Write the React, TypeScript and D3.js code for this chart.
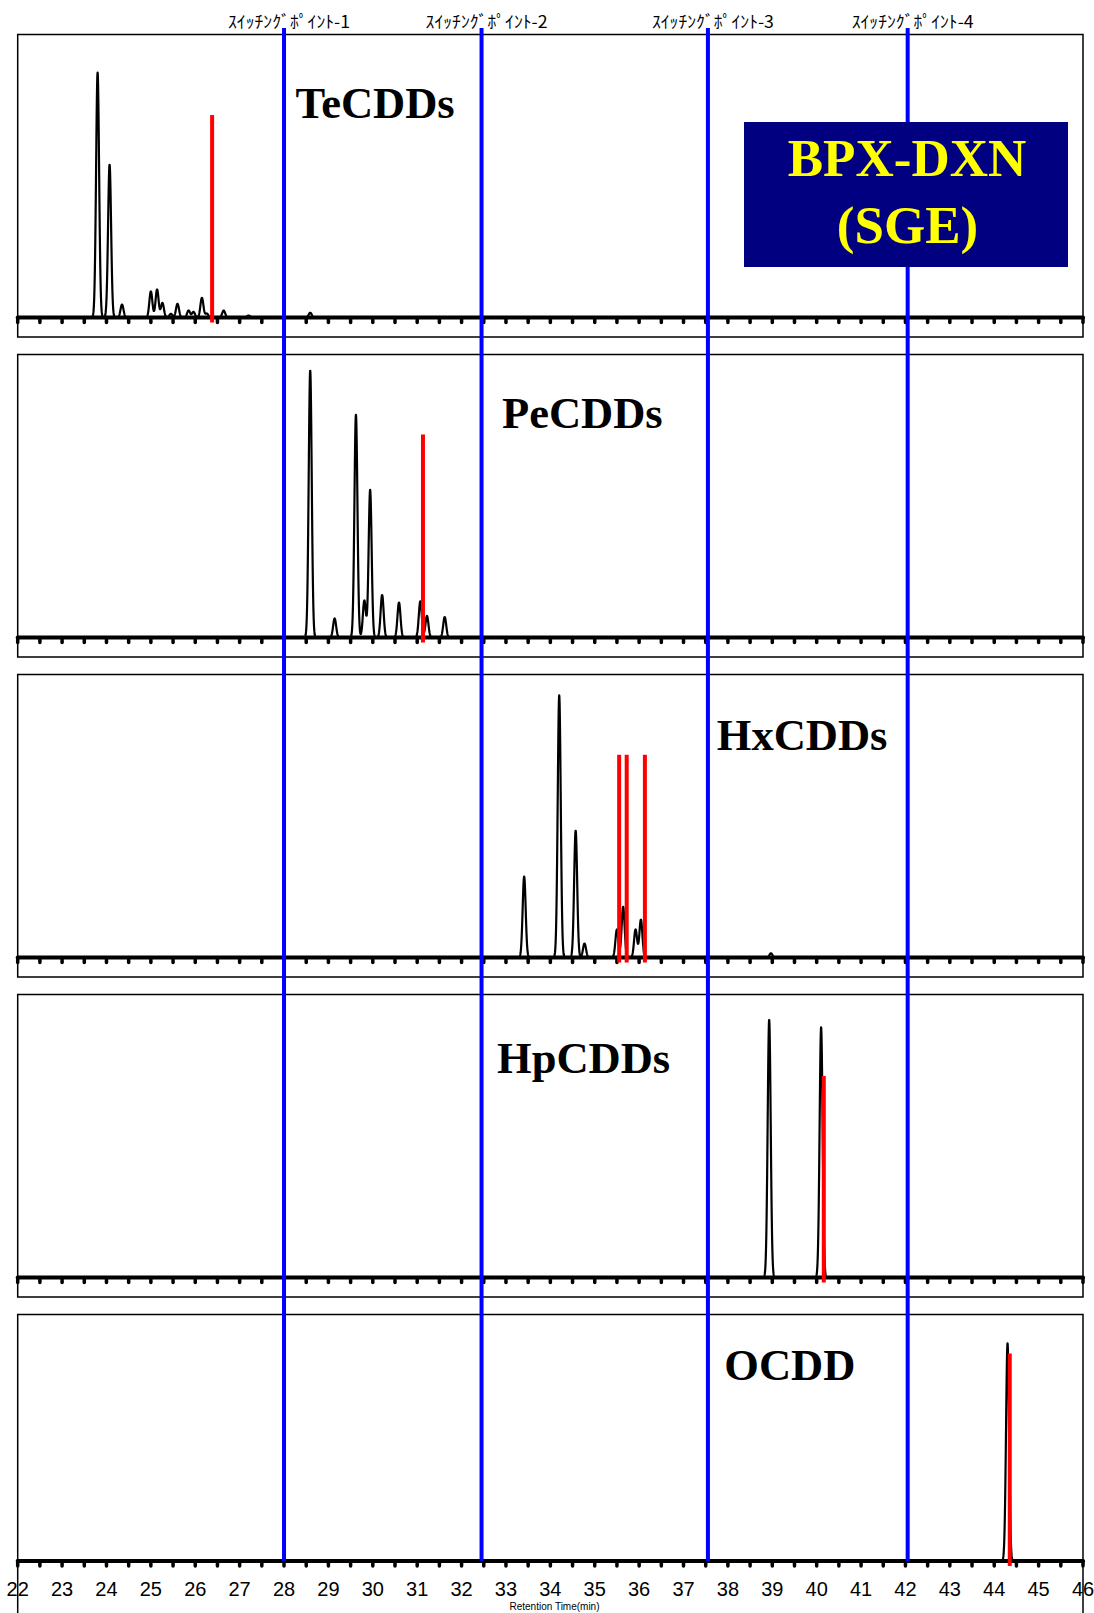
import React from 'react';
import * as d3 from 'd3';

const W = 1094;
const H = 1613;

// Retention time axis
const timeDomain = [22, 46];
const tickLabels = d3.range(22, 47, 1);
const minorTicks = d3.range(22, 46.001, 0.5);

// Switching points (min)
const switchTimes = [28.0, 32.45, 37.55, 42.05];
const switchLabels = ['ｽｲｯﾁﾝｸﾞﾎﾟｲﾝﾄ-1', 'ｽｲｯﾁﾝｸﾞﾎﾟｲﾝﾄ-2', 'ｽｲｯﾁﾝｸﾞﾎﾟｲﾝﾄ-3', 'ｽｲｯﾁﾝｸﾞﾎﾟｲﾝﾄ-4'];

// Panels
const panelNames = ['TeCDDs', 'PeCDDs', 'HxCDDs', 'HpCDDs', 'OCDD'];
const panelLabelTimes = [28.26, 32.91, 37.75, 32.8, 37.92];

// Peaks (retention time, relative height)
const teTimes = [23.8, 24.07, 24.35, 25.0, 25.14, 25.26, 25.45, 25.6, 25.85, 25.96, 26.15, 26.26, 26.64, 27.2, 28.59];
const teHeights = [87.5, 54.6, 4.6, 9.3, 10.0, 5.2, 1.3, 4.9, 2.5, 2.0, 7.0, 1.4, 2.5, 0.7, 1.7];
const teMarkers = [26.38];
const teMarkerHeights = [72.3];

const peTimes = [28.59, 29.14, 29.62, 29.81, 29.94, 30.21, 30.59, 31.07, 31.22, 31.62];
const peHeights = [95.4, 6.8, 79.5, 13.2, 52.7, 15.2, 12.5, 12.9, 7.7, 7.3];
const peMarkers = [31.13];
const peMarkerHeights = [72.5];

const hxTimes = [33.41, 34.2, 34.57, 34.77, 35.5, 35.64, 35.92, 36.04, 38.97];
const hxHeights = [28.9, 93.6, 45.3, 5.0, 10.0, 18.1, 10.0, 13.5, 1.5];
const hxMarkers = [35.55, 35.72, 36.13];
const hxMarkerHeights = [72.4, 72.4, 72.4];

const hpTimes = [38.93, 40.1];
const hpHeights = [92.1, 89.3];
const hpMarkers = [40.16];
const hpMarkerHeights = [72.0];

const ocTimes = [44.3];
const ocHeights = [77.7];
const ocMarkers = [44.35];
const ocMarkerHeights = [74.1];

const panelPeakTimes = [teTimes, peTimes, hxTimes, hpTimes, ocTimes];
const panelPeakHeights = [teHeights, peHeights, hxHeights, hpHeights, ocHeights];
const panelMarkerTimes = [teMarkers, peMarkers, hxMarkers, hpMarkers, ocMarkers];
const panelMarkerHeights = [teMarkerHeights, peMarkerHeights, hxMarkerHeights, hpMarkerHeights, ocMarkerHeights];

// layout
const LEFT = 17.7;
const RIGHT = 1083;
const PANEL_TOP0 = 34.5;
const PANEL_STEP = 320;
const PANEL_H = 302.5;
const AXIS_OFF = 283;
const LAST_AXIS = 1561;
const PX_PER_UNIT = 2.8;
const SIGMA = 0.034;
const LABEL_OFFSETS = [83.5, 73.5, 75.5, 78.5, 65.5];

export default function App() {
  const x = d3.scaleLinear().domain(timeDomain).range([LEFT, RIGHT]);
  const samples = d3.range(timeDomain[0], timeDomain[1] + 0.0001, 0.004);

  const panels = panelNames.map((name, i) => {
    const top = PANEL_TOP0 + i * PANEL_STEP;
    const axisY = i === 4 ? LAST_AXIS : top + AXIS_OFF;
    const y = d3.scaleLinear().domain([0, 100]).range([axisY, axisY - 100 * PX_PER_UNIT]);
    const ts = panelPeakTimes[i];
    const hs = panelPeakHeights[i];
    const line = d3
      .line<number>()
      .x((t) => x(t))
      .y((t) => {
        let v = 0;
        for (let k = 0; k < ts.length; k++) {
          const d = (t - ts[k]) / SIGMA;
          if (Math.abs(d) < 8) v += hs[k] * Math.exp(-0.5 * d * d);
        }
        return y(v);
      });
    return { name, i, top, axisY, y, path: line(samples) || '' };
  });

  return (
    <svg
      width={W}
      height={H}
      viewBox={`0 0 ${W} ${H}`}
      style={{ position: 'absolute', left: 0, top: 0, background: '#fff' }}
    >
      <rect x={0} y={0} width={W} height={H} fill="#fff" />
      {panels.map((p) => (
        <g key={p.name}>
          <rect
            x={LEFT}
            y={p.top}
            width={RIGHT - LEFT}
            height={p.i === 4 ? H + 20 - p.top : PANEL_H}
            fill="none"
            stroke="#000"
            strokeWidth={1.5}
          />
          {minorTicks.map((t) => (
            <line
              key={t}
              x1={x(t)}
              x2={x(t)}
              y1={p.axisY}
              y2={p.axisY + 5}
              stroke="#000"
              strokeWidth={3.5}
              strokeLinecap="round"
            />
          ))}
          <line x1={x(22)} x2={x(46)} y1={p.axisY} y2={p.axisY} stroke="#000" strokeWidth={4} strokeLinecap="round" />
          <path d={p.path} fill="none" stroke="#000" strokeWidth={2.2} strokeLinejoin="round" />
          {panelMarkerTimes[p.i].map((t, k) => (
            <rect
              key={k}
              x={x(t) - 2}
              width={4}
              y={p.y(panelMarkerHeights[p.i][k])}
              height={p.axisY + 5 - p.y(panelMarkerHeights[p.i][k])}
              fill="#ff0000"
            />
          ))}
        </g>
      ))}
      {switchTimes.map((t, k) => (
        <g key={t}>
          <line x1={x(t)} x2={x(t)} y1={28} y2={LAST_AXIS} stroke="#0000ff" strokeWidth={4} />
          <text
            x={x(t) + 5}
            y={27.5}
            textAnchor="middle"
            fontFamily="'Noto Sans CJK JP', sans-serif"
            fontSize={17}
            textLength={122}
            lengthAdjust="spacingAndGlyphs"
            fill="#000"
          >
            {switchLabels[k]}
          </text>
        </g>
      ))}
      {panels.map((p) => (
        <text
          key={p.name + 'lbl'}
          x={x(panelLabelTimes[p.i])}
          y={p.top + LABEL_OFFSETS[p.i]}
          fontFamily="'Liberation Serif', 'Times New Roman', serif"
          fontWeight="bold"
          fontSize={44.5}
          fill="#000"
        >
          {p.name}
        </text>
      ))}
      <rect x={744} y={122} width={324} height={145} fill="#000080" />
      <text
        x={907}
        y={176}
        textAnchor="middle"
        fontFamily="'Liberation Serif', 'Times New Roman', serif"
        fontWeight="bold"
        fontSize={53}
        fill="#ffff00"
      >
        BPX-DXN
      </text>
      <text
        x={907.5}
        y={243}
        textAnchor="middle"
        fontFamily="'Liberation Serif', 'Times New Roman', serif"
        fontWeight="bold"
        fontSize={53}
        fill="#ffff00"
      >
        (SGE)
      </text>
      {tickLabels.map((t) => (
        <text
          key={t}
          x={x(t)}
          y={1596}
          textAnchor="middle"
          fontFamily="'Liberation Sans Narrow', 'Liberation Sans', Arial, sans-serif"
          fontSize={20}
          fill="#000"
        >
          {t}
        </text>
      ))}
      <text
        x={554.5}
        y={1610}
        textAnchor="middle"
        fontFamily="'Liberation Sans Narrow', 'Liberation Sans', Arial, sans-serif"
        fontSize={10}
        fill="#000"
      >
        Retention Time(min)
      </text>
    </svg>
  );
}
